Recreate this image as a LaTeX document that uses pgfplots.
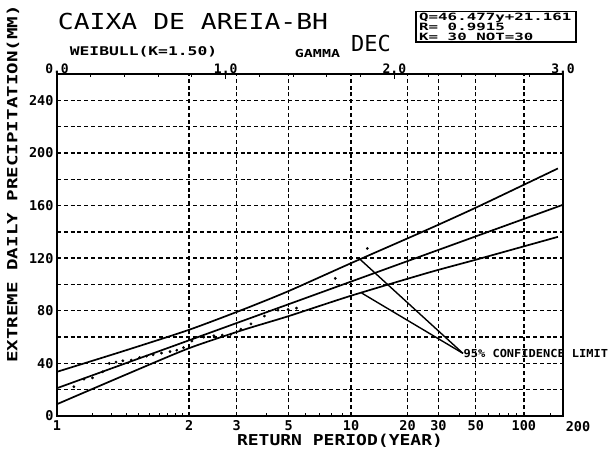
\documentclass[border=0pt]{standalone}
\usepackage{pgfplots}
\pgfplotsset{compat=1.18}
\usepackage{fontspec}
\setmainfont{DejaVu Sans Mono}
\newfontfamily\mono{DejaVu Sans Mono}
\newcommand\fs[1]{\fontsize{#1}{#1}\selectfont}

\begin{document}
\begin{tikzpicture}[x=1pt,y=1pt]
\useasboundingbox (0,0) rectangle (610,452);
\begin{axis}[
  at={(57pt,36pt)}, anchor=south west, scale only axis,
  width=506pt, height=342pt,
  xmin=0, xmax=3, ymin=0, ymax=260,
  clip=false,
  axis line style={line width=1.8pt},
  xtick={0,0.78321,1.06471,1.37336,1.74372,2.07812,2.26167,2.48279,2.76801},
  xticklabels={1,2,3,5,10,20,30,50,100},
  minor xtick={0.20866,0.32154,0.40983,0.48378,0.54781,0.60448,0.65546,0.70170,0.74410,1.24329,1.47520,1.55862,1.62914,1.69011,2.38741,2.55929,2.62315,2.67783,2.72560,2.92818},
  ytick={0,40,...,240},
  minor ytick={20,60,...,220},
  xmajorgrids, ymajorgrids, yminorgrids,
  major grid style={black, line width=1.4pt, dash pattern=on 4pt off 2.8pt},
  minor grid style={black, line width=1.4pt, dash pattern=on 4pt off 2.8pt},
  tick align=inside, xtick pos=bottom, ytick pos=left,
  major tick length=4pt, minor tick length=3pt,
  tick style={black, line width=0.9pt},
  /pgf/number format/assume math mode=true,
  xticklabel style={font=\mono\bfseries\fs{13.5}, yshift=-1pt},
  yticklabel style={font=\mono\bfseries\fs{13.5}},
]
% fitted line Q = 46.477 y + 21.161
\addplot[line width=1.7pt] coordinates {(0,21.161) (3,160.592)};
% upper 95% limit
\addplot[line width=1.7pt, smooth, tension=0.4] coordinates {
 (0,33.6) (0.4,49.6) (0.78,65.4) (1.1,80.8) (1.37,94.8) (1.74,116.0) (2.2,141.9) (2.5,159.4) (2.97,188.2)};
% lower 95% limit
\addplot[line width=1.7pt, smooth, tension=0.4] coordinates {
 (0,9.0) (0.4,31.0) (0.78,51.4) (1.1,65.3) (1.37,75.8) (1.74,91.3) (2.2,108.9) (2.5,119.4) (2.97,136.2)};
% leader lines
\addplot[line width=1.4pt] coordinates {(1.796,119.2) (2.407,47.6)};
\addplot[line width=1.4pt] coordinates {(1.806,93.5) (2.407,47.6)};
% observed data
\addplot[only marks, mark=*, mark size=1.2pt] coordinates {
 (0.10,22.3) (0.16,28) (0.21,29) (0.27,33.6) (0.31,40) (0.35,41) (0.39,42)
 (0.44,42.5) (0.49,44.5) (0.53,45.5) (0.57,46.5) (0.62,47.8) (0.67,49) (0.71,50)
 (0.75,52) (0.80,57) (0.87,60) (0.93,61) (0.98,61.5) (1.03,62) (1.09,66) (1.15,70)
 (1.23,76) (1.31,80.5) (1.37,81) (1.42,82) (1.65,104.6) (1.84,127.4)};
\node[anchor=west, font=\mono\bfseries\fs{11}, inner sep=0pt] at (axis cs:2.41,47.3) {\scalebox{1.09}[1]{95\% CONFIDENCE LIMIT}};
\end{axis}
\begin{axis}[
  at={(57pt,36pt)}, anchor=south west, scale only axis,
  width=506pt, height=342pt,
  xmin=0, xmax=3, ymin=0, ymax=260,
  axis x line*=top, axis y line=none,
  axis line style={line width=1.8pt},
  xtick={0,1,2,3}, xticklabels={0.0,1.0,2.0,3.0},
  minor x tick num=4,
  tick align=inside,
  major tick length=5pt, minor tick length=3pt,
  tick style={black, line width=0.9pt},
  xticklabel style={font=\mono\bfseries\fs{13}, yshift=-3pt},
]
\addplot[draw=none] coordinates {(0,0) (3,260)};
\end{axis}
% titles and labels
\node[font=\mono\fs{22}] at (193,431) {\scalebox{1.2}[1]{CAIXA DE AREIA-BH}};
\node[font=\mono\fs{22}] at (371,409) {DEC};
\draw[line width=1.5pt] (416,410) rectangle (576,440.5);
\node[anchor=west, font=\mono\bfseries\fs{10}, inner sep=0pt] at (419,434.5) {\scalebox{1.58}[1]{Q=46.477y+21.161}};
\node[anchor=west, font=\mono\bfseries\fs{10}, inner sep=0pt] at (419,425) {\scalebox{1.58}[1]{R= 0.9915}};
\node[anchor=west, font=\mono\bfseries\fs{10}, inner sep=0pt] at (419,415.5) {\scalebox{1.58}[1]{K= 30  NOT=30}};
\node[font=\mono\bfseries\fs{12}] at (143.5,400.5) {\scalebox{1.36}[1]{WEIBULL(K=1.50)}};
\node[font=\mono\bfseries\fs{11}] at (317.5,398) {\scalebox{1.36}[1]{GAMMA}};
\node[rotate=90, font=\mono\bfseries\fs{14}] at (13,268) {\scalebox{1.37}[1]{EXTREME DAILY PRECIPITATION(MM)}};
\node[font=\mono\bfseries\fs{15}] at (340,11) {\scalebox{1.2}[1]{RETURN PERIOD(YEAR)}};
\node[font=\mono\bfseries\fs{13.5}] at (578,25) {200};
\end{tikzpicture}
\end{document}
